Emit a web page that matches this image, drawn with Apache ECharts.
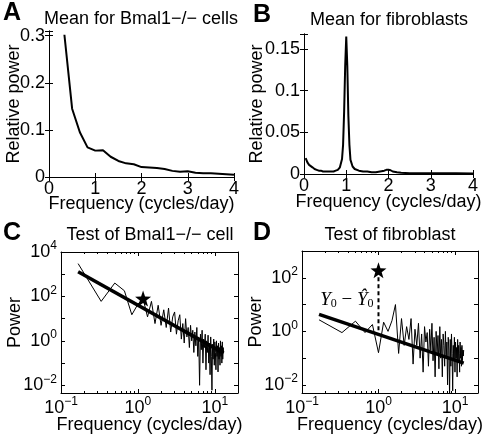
<!DOCTYPE html>
<html><head><meta charset="utf-8">
<script src="https://cdn.jsdelivr.net/npm/echarts@6/dist/echarts.min.js"></script>
<style>html,body{margin:0;padding:0;background:#fff}#c{width:498px;height:443px}</style>
</head><body><div id="c"></div><script>
// ---- Panel A: Mean for Bmal1-/- cells ----
const aFreq  = [0.333,0.5,0.667,0.833,1.0,1.167,1.333,1.5,1.667,1.833,2.0,2.167,2.333,2.5,2.667,2.833,3.0,3.167,3.333,3.5,3.667,3.833,4.0];
const aPower = [0.302,0.145,0.095,0.063,0.056,0.057,0.043,0.034,0.029,0.027,0.021,0.020,0.019,0.017,0.013,0.011,0.012,0.009,0.008,0.008,0.007,0.006,0.005];
// ---- Panel B: Mean for fibroblasts ----
const bFreq  = [0.04,0.08,0.12,0.16,0.2,0.25,0.3,0.35,0.4,0.45,0.5,0.55,0.6,0.65,0.7,0.75,0.8,0.85,0.9,0.925,0.95,0.975,1.0,1.025,1.05,1.075,1.1,1.15,1.2,1.3,1.4,1.5,1.6,1.7,1.8,1.9,1.95,2.0,2.05,2.1,2.2,2.3,2.5,2.7,3.0,3.3,3.6,4.0];
const bPower = [0.019,0.014,0.011,0.009,0.008,0.006,0.005,0.004,0.004,0.003,0.003,0.003,0.003,0.003,0.003,0.004,0.005,0.008,0.018,0.035,0.075,0.13,0.165,0.13,0.07,0.035,0.017,0.009,0.006,0.004,0.003,0.003,0.002,0.002,0.003,0.004,0.005,0.005,0.0045,0.003,0.002,0.0015,0.001,0.001,0.001,0.0008,0.0008,0.0007];
// ---- Panel C: Test of Bmal1-/- cell ----
const cFreq = [0.167,0.333,0.5,0.667,0.833,1.0,1.167,1.333,1.5,1.667,1.833,2.0,2.167,2.333,2.5,2.667,2.833,3.0,3.167,3.333,3.5,3.667,3.833,4.0,4.167,4.333,4.5,4.667,4.833,5.0,5.167,5.333,5.5,5.667,5.833,6.0,6.167,6.333,6.5,6.667,6.833,7.0,7.167,7.333,7.5,7.667,7.833,8.0,8.167,8.333,8.5,8.667,8.833,9.0,9.167,9.333,9.5,9.667,9.833,10.0,10.167,10.333,10.5,10.667,10.833,11.0,11.167,11.333,11.5,11.667,11.833,12.0,12.167,12.333,12.5,12.667,12.833,13.0];
const cPower = [3000,60,400,180,15,45,80,12,60,6,40,5,25,4,30,2.5,12,20,2,8,15,1.2,6,0.8,10,1.5,4,0.5,5,1,3,0.3,2.5,0.6,4,0.2,1.5,0.01,2,0.4,3,0.1,1.2,0.5,2,0.05,1,0.3,1.8,0.1,0.8,0.03,1.5,0.2,0.006,0.7,0.15,1.2,0.08,0.9,0.3,0.05,1,0.2,0.6,0.04,0.8,0.15,0.5,0.08,1,0.2,0.6,0.1,0.9,0.15,0.5,0.3];
const cFitFreq = [0.167, 13.0];
const cFitPower = [1300, 0.28];
const cStar = [1.167, 80];
// ---- Panel D: Test of fibroblast ----
const dFreq = cFreq.slice();
const dPower = [2.7,0.9,2.4,0.9,1.8,0.16,2.2,1.0,2.5,10,0.15,3,0.3,1.5,0.5,3,0.06,1.2,0.3,2,0.1,0.8,0.03,1.5,0.4,0.9,0.05,1.2,0.2,2,0.08,0.6,0.02,1,0.15,0.7,0.04,1.5,0.1,0.5,0.02,0.8,0.3,0.05,1,0.1,0.4,0.01,0.6,0.2,0.004,0.5,0.05,0.8,0.15,0.006,0.3,0.08,0.6,0.03,0.4,0.1,0.25,0.02,0.5,0.07,0.3,0.15,0.03,0.4,0.1,0.25,0.05,0.3,0.08,0.2,0.12,0.2];
const dFitFreq = [0.167, 13.0];
const dFitPower = [4.3, 0.065];
const dStar = [1.0, 190];
const dDiffFreq = [1.0, 1.0];
const dDiffPower = [190, 0.8];
const dLabelAt = [1.0, 15];
// minor tick positions for the log frequency axes
const logMinorX = [0.2,0.3,0.4,0.5,0.6,0.7,0.8,0.9,2,3,4,5,6,7,8,9,20];

const FONT = 'Liberation Sans';
const BLACK = '#000';
const STAR = 'path://M0,-10L2.35,-3.24L9.51,-3.09L3.8,1.24L5.88,8.09L0,4L-5.88,8.09L-3.8,1.24L-9.51,-3.09L-2.35,-3.24Z';
const zip = (xs, ys) => xs.map((x, i) => [x, ys[i]]);

const grids = [
  {left:49, top:31, width:185, height:146},
  {left:304, top:34, width:169, height:140},
  {left:61, top:252, width:177, height:141},
  {left:302, top:251, width:176, height:142}
];

function isMult(v, step){ const r = v/step; return Math.abs(r - Math.round(r)) < 1e-6; }
function powLabel(v, every){
  const e = Math.log10(v), r = Math.round(e);
  if (Math.abs(e - r) > 1e-6) return '';
  if (r % every !== 0) return '';
  return '{b|10}{s|' + (r < 0 ? '\u2212' : '') + Math.abs(r) + '}';
}
const richPow = {
  b: {fontFamily: FONT, fontSize: 18, color: BLACK},
  s: {fontFamily: FONT, fontSize: 12, color: BLACK, padding: [0,0,12,0]}
};
const tickIn = (len) => ({show:true, inside:true, length:len, lineStyle:{color:BLACK, width:1}});
const lineAx = {show:true, lineStyle:{color:BLACK, width:1}};
const nameStyle = {fontFamily:FONT, fontSize:18, color:BLACK};

const xAxis = [], yAxis = [];
// linear panels
[[0,18],[1,19]].forEach(([g, gap]) => {
  xAxis.push({type:'value', gridIndex:g, min:0, max:4, interval:1, position:'bottom',
    axisLine:lineAx, axisTick:tickIn(4), splitLine:{show:false},
    axisLabel:{fontFamily:FONT, fontSize:18, color:BLACK, margin:3},
    name:'Frequency (cycles/day)', nameLocation:'middle', nameGap:gap, nameMoveOverlap:false,
    nameTextStyle:nameStyle});
  xAxis.push({type:'value', gridIndex:g, min:0, max:4, interval:1, position:'top',
    axisLine:lineAx, axisTick:tickIn(4), splitLine:{show:false}, axisLabel:{show:false}});
});
yAxis.push({type:'value', gridIndex:0, min:0, max:0.31, interval:0.1, position:'left',
  axisLine:lineAx, axisTick:tickIn(4), splitLine:{show:false},
  axisLabel:{fontFamily:FONT, fontSize:18, color:BLACK, margin:4, formatter:v => isMult(v,0.1) ? String(+v.toFixed(2)) : ''},
  name:'Relative power', nameLocation:'middle', nameGap:26, nameMoveOverlap:false, nameTextStyle:nameStyle});
yAxis.push({type:'value', gridIndex:0, min:0, max:0.31, interval:0.1, position:'right',
  axisLine:lineAx, axisTick:tickIn(4), splitLine:{show:false}, axisLabel:{show:false}});
yAxis.push({type:'value', gridIndex:1, min:0, max:0.168, interval:0.05, position:'left',
  axisLine:lineAx, axisTick:tickIn(4), splitLine:{show:false},
  axisLabel:{fontFamily:FONT, fontSize:18, color:BLACK, margin:4, formatter:v => isMult(v,0.05) ? String(+v.toFixed(2)) : ''},
  name:'Relative power', nameLocation:'middle', nameGap:38, nameMoveOverlap:false, nameTextStyle:nameStyle});
yAxis.push({type:'value', gridIndex:1, min:0, max:0.168, interval:0.05, position:'right',
  axisLine:lineAx, axisTick:tickIn(4), splitLine:{show:false}, axisLabel:{show:false}});
// log panels
[[2, 0.0045, 10000, 37],[3, 0.005, 1000, 37]].forEach(([g, ymin, ymax, ng]) => {
  xAxis.push({type:'log', logBase:10, gridIndex:g, min:0.1, max:20, position:'bottom',
    axisLine:lineAx, axisTick:tickIn(4), splitLine:{show:false},
    axisLabel:{margin:3, formatter:v => powLabel(v,1), rich:richPow},
    name:'Frequency (cycles/day)', nameLocation:'middle', nameGap:23, nameMoveOverlap:false,
    nameTextStyle:nameStyle});
  xAxis.push({type:'log', logBase:10, gridIndex:g, min:0.1, max:20, position:'top',
    axisLine:lineAx, axisTick:tickIn(4), splitLine:{show:false}, axisLabel:{show:false}});
  ['bottom','top'].forEach(pos => xAxis.push({type:'log', logBase:10, gridIndex:g, min:0.1, max:20, position:pos,
    axisLine:{show:false}, axisTick:{show:true, inside:true, length:2, customValues:logMinorX, lineStyle:{color:BLACK, width:1}},
    splitLine:{show:false}, axisLabel:{show:false}}));
  yAxis.push({type:'log', logBase:10, gridIndex:g, min:ymin, max:ymax, position:'left',
    axisLine:lineAx, axisTick:tickIn(4), splitLine:{show:false},
    axisLabel:{margin:4, formatter:v => powLabel(v,2), rich:richPow},
    name:'Power', nameLocation:'middle', nameGap:ng, nameMoveOverlap:false, nameTextStyle:nameStyle});
  yAxis.push({type:'log', logBase:10, gridIndex:g, min:ymin, max:ymax, position:'right',
    axisLine:lineAx, axisTick:tickIn(4), splitLine:{show:false}, axisLabel:{show:false}});
});
// y axes: A 0,1 ; B 2,3 ; C 4,5 ; D 6,7.  x axes: A 0,1 ; B 2,3 ; C 4..7 ; D 8..11
const lineS = (xi, yi, data, w, extra) => Object.assign({type:'line', xAxisIndex:xi, yAxisIndex:yi, data,
  showSymbol:false, symbol:'none', lineStyle:{color:BLACK, width:w}, animation:false, silent:true}, extra||{});
const starS = (xi, yi, pt) => ({type:'scatter', xAxisIndex:xi, yAxisIndex:yi, data:[pt], symbol:STAR, symbolSize:16,
  itemStyle:{color:BLACK, opacity:1}, animation:false, silent:true});

const series = [
  lineS(0, 0, zip(aFreq, aPower), 2),
  lineS(2, 2, zip(bFreq, bPower), 2),
  lineS(4, 4, zip(cFreq, cPower), 1),
  lineS(4, 4, zip(cFitFreq, cFitPower), 3.5),
  starS(4, 4, cStar),
  lineS(8, 6, zip(dFreq, dPower), 1),
  lineS(8, 6, zip(dFitFreq, dFitPower), 3.5),
  lineS(8, 6, zip(dDiffFreq, dDiffPower), 2, {lineStyle:{color:BLACK, width:2, type:[4,3]}}),
  starS(8, 6, dStar),
  {type:'scatter', xAxisIndex:8, yAxisIndex:6, data:[dLabelAt], symbolSize:0, animation:false, silent:true,
    itemStyle:{opacity:1},
    label:{show:true, position:'left', distance:5, color:BLACK,
      formatter:'{i|Y}{u|0}{m| \u2212 }{i|\u0176}{u|0}',
      rich:{
        i:{fontFamily:'Liberation Serif', fontStyle:'italic', fontSize:19, color:BLACK},
        u:{fontFamily:'Liberation Serif', fontSize:12, color:BLACK, padding:[7,0,0,0]},
        m:{fontFamily:'Liberation Serif', fontSize:19, color:BLACK}
      }}}
];

const titleStyle = {fontFamily:FONT, fontSize:18, fontWeight:'normal', color:BLACK};
const letterStyle = {fontFamily:FONT, fontSize:25, fontWeight:'bold', color:BLACK};
const title = [
  {text:'A', left:3, top:1, textStyle:letterStyle, padding:0},
  {text:'Mean for Bmal1\u2212/\u2212 cells', left:141, top:10, textAlign:'center', textStyle:titleStyle, padding:0},
  {text:'B', left:253, top:3, textStyle:letterStyle, padding:0},
  {text:'Mean for fibroblasts', left:389, top:11, textAlign:'center', textStyle:titleStyle, padding:0},
  {text:'C', left:3, top:221, textStyle:letterStyle, padding:0},
  {text:'Test of Bmal1\u2212/\u2212 cell', left:150, top:226, textAlign:'center', textStyle:titleStyle, padding:0},
  {text:'D', left:253, top:221, textStyle:letterStyle, padding:0},
  {text:'Test of fibroblast', left:390, top:226, textAlign:'center', textStyle:titleStyle, padding:0}
];

const chart = echarts.init(document.getElementById('c'), null, {renderer:'canvas'});
chart.setOption({backgroundColor:'#fff', animation:false, title, grid:grids, xAxis, yAxis, series});
</script></body></html>
